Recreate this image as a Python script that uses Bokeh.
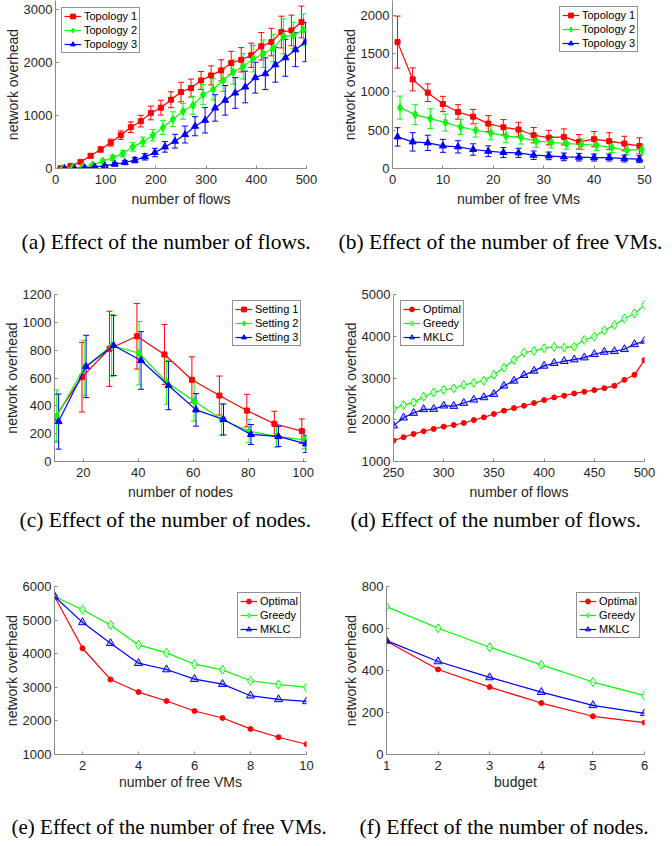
from bokeh.plotting import figure
from bokeh.models import ColumnDataSource, Whisker, TeeHead, Title, Range1d
from bokeh.layouts import column, row
from bokeh.embed import file_html
from bokeh.resources import INLINE

RED = "#ff0000"
GREEN = "#00ff00"
BLUE = "#0000ff"
SANS = "Liberation Sans"
SERIF = "Liberation Serif"
AXC = "#262626"
LINEC = "#8a8a8a"

# ---------------- (a) effect of number of flows (with error bars)
a_x1 = [10, 30, 50, 70, 90, 110, 130, 150, 170, 190, 210, 230, 250, 270, 290, 310, 330, 350, 370, 390, 410, 430, 450, 470, 490]
a_x2 = [14, 34, 54, 74, 94, 114, 134, 154, 174, 194, 214, 234, 254, 274, 294, 314, 334, 354, 374, 394, 414, 434, 454, 474, 494]
a_x3 = [18, 38, 58, 78, 98, 118, 138, 158, 178, 198, 218, 238, 258, 278, 298, 318, 338, 358, 378, 398, 418, 438, 458, 478, 498]
a_t1 = [5, 50, 125, 240, 360, 490, 630, 780, 895, 1050, 1150, 1300, 1445, 1520, 1665, 1760, 1855, 1995, 2055, 2140, 2310, 2390, 2580, 2610, 2770]
a_t1_err = [10, 15, 20, 35, 50, 65, 80, 100, 110, 130, 140, 150, 185, 170, 170, 180, 200, 220, 230, 230, 260, 260, 300, 290, 300]
a_t2 = [0, 13, 31, 69, 138, 201, 283, 409, 503, 629, 774, 931, 1082, 1195, 1396, 1497, 1667, 1824, 1931, 2075, 2170, 2277, 2497, 2516, 2623]
a_t2_err = [5, 10, 15, 25, 35, 50, 60, 80, 90, 110, 130, 140, 150, 170, 190, 200, 210, 230, 240, 250, 260, 260, 330, 250, 300]
a_t3 = [0, 0, 13, 31, 50, 82, 113, 157, 220, 302, 409, 516, 642, 799, 912, 1145, 1289, 1428, 1541, 1717, 1792, 1962, 2094, 2245, 2390]
a_t3_err = [5, 5, 10, 15, 20, 30, 40, 50, 60, 80, 100, 130, 160, 180, 240, 250, 280, 290, 300, 290, 300, 330, 350, 320, 370]

# ---------------- (b) effect of number of free VMs (with error bars)
b_x1 = [1, 4, 7, 10, 13, 16, 19, 22, 25, 28, 31, 34, 37, 40, 43, 46, 49]
b_x2 = [1.5, 4.5, 7.5, 10.5, 13.5, 16.5, 19.5, 22.5, 25.5, 28.5, 31.5, 34.5, 37.5, 40.5, 43.5, 46.5, 49.5]
b_x3 = [1, 4, 7, 10, 13, 16, 19, 22, 25, 28, 31, 34, 37, 40, 43, 46, 49]
b_t1 = [1652, 1165, 991, 843, 739, 678, 587, 539, 509, 435, 404, 413, 348, 383, 357, 326, 296]
b_t1_err = [340, 150, 115, 100, 95, 95, 105, 100, 95, 100, 95, 105, 95, 100, 110, 95, 105]
b_t2 = [796, 704, 652, 600, 543, 500, 465, 426, 404, 357, 343, 326, 317, 304, 274, 239, 248]
b_t2_err = [150, 130, 130, 110, 100, 90, 90, 90, 85, 80, 75, 75, 70, 70, 65, 60, 60]
b_t3 = [413, 348, 335, 296, 283, 248, 226, 209, 204, 174, 165, 152, 148, 143, 143, 130, 122]
b_t3_err = [120, 120, 100, 85, 80, 75, 70, 65, 60, 55, 50, 50, 50, 45, 45, 45, 45]

# ---------------- (c) effect of number of nodes (with error bars)
c_x1 = [9.5, 19.5, 29.5, 39.5, 49.5, 59.5, 69.5, 79.5, 89.5, 99.5]
c_x2 = [10.3, 20.3, 30.3, 40.3, 50.3, 60.3, 70.3, 80.3, 90.3, 100.3]
c_x3 = [11, 21, 31, 41, 51, 61, 71, 81, 91, 101]
c_s1 = [314, 606, 810, 900, 769, 587, 474, 366, 271, 218]
c_s1_err = [168, 250, 270, 236, 215, 165, 140, 117, 90, 88]
c_s2 = [326, 673, 834, 778, 570, 434, 302, 218, 180, 156]
c_s2_err = [187, 198, 222, 228, 158, 144, 114, 84, 78, 66]
c_s3 = [287, 683, 834, 726, 546, 371, 302, 194, 180, 127]
c_s3_err = [198, 224, 216, 207, 174, 117, 111, 72, 72, 62]

# ---------------- (d) effect of number of flows
d_x = [250, 260, 270, 280, 290, 300, 310, 320, 330, 340, 350, 360, 370, 380, 390, 400, 410, 420, 430, 440, 450, 460, 470, 480, 490, 500]
d_opt = [1501, 1581, 1660, 1724, 1780, 1835, 1875, 1922, 1994, 2058, 2137, 2217, 2280, 2336, 2400, 2471, 2535, 2575, 2630, 2670, 2710, 2757, 2813, 2956, 3076, 3430]
d_greedy = [2256, 2352, 2416, 2551, 2654, 2718, 2750, 2837, 2885, 2934, 3076, 3250, 3433, 3608, 3648, 3712, 3744, 3728, 3752, 3911, 3990, 4141, 4268, 4419, 4547, 4746]
d_mklc = [1859, 2050, 2161, 2249, 2256, 2336, 2328, 2400, 2479, 2535, 2614, 2813, 2932, 3068, 3171, 3290, 3354, 3402, 3441, 3489, 3569, 3624, 3640, 3688, 3807, 3887]

# ---------------- (e) effect of number of free VMs
e_x = [1, 2, 3, 4, 5, 6, 7, 8, 9, 10]
e_opt = [5704, 4162, 3233, 2858, 2591, 2294, 2087, 1761, 1514, 1306]
e_greedy = [5704, 5308, 4854, 4261, 4024, 3688, 3520, 3194, 3085, 2996]
e_mklc = [5704, 4933, 4310, 3717, 3530, 3243, 3095, 2749, 2640, 2581]

# ---------------- (f) effect of number of nodes (budget)
f_x = [1, 2, 3, 4, 5, 6]
f_opt = [539, 405, 321, 245, 182, 152]
f_greedy = [704, 601, 511, 427, 345, 280]
f_mklc = [542, 443, 367, 297, 234, 196]

captions = [
    "(a) Effect of the number of flows.",
    "(b) Effect of the number of free VMs.",
    "(c) Effect of the number of nodes.",
    "(d) Effect of the number of flows.",
    "(e) Effect of the number of free VMs.",
    "(f) Effect of the number of nodes.",
]


def make_fig(width, height, mbl, mbr, mbt, mbb, xr, yr, xticks, yticks, xlabel, xlab_standoff):
    p = figure(width=width, height=height, output_backend="svg", toolbar_location=None,
               x_range=Range1d(*xr), y_range=Range1d(*yr),
               min_border_left=mbl, min_border_right=mbr,
               min_border_top=mbt, min_border_bottom=mbb)
    p.grid.visible = False
    p.outline_line_color = None
    p.background_fill_color = "white"
    p.border_fill_color = "white"
    p.xaxis.ticker = xticks
    p.yaxis.ticker = yticks
    for ax in (p.xaxis[0], p.yaxis[0]):
        ax.axis_line_color = LINEC
        ax.axis_line_width = 1
        ax.major_tick_line_color = LINEC
        ax.major_tick_in = 3
        ax.major_tick_out = 0
        ax.minor_tick_line_color = None
        ax.major_label_text_font = SANS
        ax.major_label_text_font_size = "13px"
        ax.major_label_text_color = AXC
        ax.axis_label_text_font = SANS
        ax.axis_label_text_font_size = "14px"
        ax.axis_label_text_font_style = "normal"
        ax.axis_label_text_color = AXC
    p.xaxis.axis_label = xlabel
    p.yaxis.axis_label = "network overhead"
    p.xaxis.major_label_standoff = 6
    p.xaxis.axis_label_standoff = xlab_standoff
    p.yaxis.major_label_standoff = 3
    p.yaxis.axis_label_standoff = 0
    return p


def err_series(p, x, y, e, color, marker, size, label):
    src = ColumnDataSource(dict(x=x, y=y,
                                lo=[v - d for v, d in zip(y, e)],
                                hi=[v + d for v, d in zip(y, e)]))
    p.add_layout(Whisker(source=src, base="x", lower="lo", upper="hi",
                         line_color=color, line_width=1,
                         upper_head=TeeHead(size=6, line_color=color, line_width=1),
                         lower_head=TeeHead(size=6, line_color=color, line_width=1)))
    p.line("x", "y", source=src, line_color=color, line_width=1.2, legend_label=label)
    p.scatter("x", "y", source=src, marker=marker, size=size, line_color=color,
              fill_color=color, legend_label=label)


def plain_series(p, x, y, color, marker, size, fill, fill_alpha, label):
    src = ColumnDataSource(dict(x=x, y=y))
    p.line("x", "y", source=src, line_color=color, line_width=1.2, legend_label=label)
    p.scatter("x", "y", source=src, marker=marker, size=size, line_color=color,
              fill_color=fill, fill_alpha=fill_alpha, legend_label=label)


def style_legend(p, loc):
    lg = p.legend[0]
    lg.location = loc
    lg.label_text_font = SANS
    lg.label_text_font_size = "11px"
    lg.label_text_color = "black"
    lg.border_line_color = AXC
    lg.border_line_width = 1
    lg.background_fill_color = "white"
    lg.background_fill_alpha = 1
    lg.glyph_width = 17
    lg.glyph_height = 12
    lg.label_height = 12
    lg.label_standoff = 3
    lg.spacing = 2
    lg.padding = 2
    lg.margin = 0


def add_caption(p, text, offset, gap, size="21.5px"):
    p.add_layout(Title(text=" ", text_font_size="1px", standoff=gap), "below")
    p.add_layout(Title(text=text, align="left", offset=offset, text_font=SERIF,
                       text_font_size=size, text_font_style="normal",
                       text_color="black", standoff=0, vertical_align="top"), "below")


# ---- row 1 (page y 0..280)
pa = make_fig(336, 280, 55, 30, 0, 112, (0, 500), (0, 3176),
              [0, 100, 200, 300, 400, 500], [0, 1000, 2000, 3000], "number of flows", 4)
err_series(pa, a_x1, a_t1, a_t1_err, RED, "square", 5, "Topology 1")
err_series(pa, a_x2, a_t2, a_t2_err, GREEN, "diamond", 8, "Topology 2")
err_series(pa, a_x3, a_t3, a_t3_err, BLUE, "triangle", 7, "Topology 3")
style_legend(pa, (6, 115))
add_caption(pa, captions[0], -34, 17)

pb = make_fig(336, 280, 56, 28, 0, 112, (0, 50), (0, 2196),
              [0, 10, 20, 30, 40, 50], [0, 500, 1000, 1500, 2000], "number of free VMs", 4)
err_series(pb, b_x1, b_t1, b_t1_err, RED, "square", 5, "Topology 1")
err_series(pb, b_x2, b_t2, b_t2_err, GREEN, "diamond", 8, "Topology 2")
err_series(pb, b_x3, b_t3, b_t3_err, BLUE, "triangle", 7, "Topology 3")
style_legend(pb, (167, 116))
add_caption(pb, captions[1], -54, 17)

# ---- row 2 (page y 280..555)
pc = make_fig(336, 275, 54, 30, 14, 94, (9.5, 101.2), (0, 1200),
              [20, 40, 60, 80, 100], [0, 200, 400, 600, 800, 1000, 1200], "number of nodes", 4)
err_series(pc, c_x1, c_s1, c_s1_err, RED, "square", 5, "Setting 1")
err_series(pc, c_x2, c_s2, c_s2_err, GREEN, "diamond", 8, "Setting 2")
err_series(pc, c_x3, c_s3, c_s3_err, BLUE, "triangle", 7, "Setting 3")
style_legend(pc, (178, 115))
add_caption(pc, captions[2], -35, 2)

pd_ = make_fig(336, 275, 57, 28, 14, 94, (250, 500), (1000, 5000),
               [250, 300, 350, 400, 450, 500], [1000, 2000, 3000, 4000, 5000], "number of flows", 4)
plain_series(pd_, d_x, d_opt, RED, "circle", 5, RED, 1, "Optimal")
plain_series(pd_, d_x, d_greedy, GREEN, "diamond", 9, "white", 0.6, "Greedy")
plain_series(pd_, d_x, d_mklc, BLUE, "triangle", 8, BLUE, 0.25, "MKLC")
style_legend(pd_, (7, 115))
add_caption(pd_, captions[3], -43, 2)

# ---- row 3 (page y 555..846)
pe = make_fig(336, 291, 54, 30, 31, 92, (1, 10), (1000, 6000),
              [2, 4, 6, 8, 10], [1000, 2000, 3000, 4000, 5000, 6000], "number of free VMs", 1)
plain_series(pe, e_x, e_opt, RED, "circle", 5, RED, 1, "Optimal")
plain_series(pe, e_x, e_greedy, GREEN, "diamond", 9, "white", 0.6, "Greedy")
plain_series(pe, e_x, e_mklc, BLUE, "triangle", 8, BLUE, 0.25, "MKLC")
style_legend(pe, (183, 116))
add_caption(pe, captions[4], -43, 19, size="21px")

pf = make_fig(336, 291, 50, 28, 31, 92, (1, 6), (0, 800),
              [1, 2, 3, 4, 5, 6], [0, 200, 400, 600, 800], "budget", 1)
plain_series(pf, f_x, f_opt, RED, "circle", 5, RED, 1, "Optimal")
plain_series(pf, f_x, f_greedy, GREEN, "diamond", 9, "white", 0.6, "Greedy")
plain_series(pf, f_x, f_mklc, BLUE, "triangle", 8, BLUE, 0.25, "MKLC")
style_legend(pf, (190, 116))
add_caption(pf, captions[5], -27, 19)

layout = column(row(pa, pb), row(pc, pd_), row(pe, pf))

open("out.html", "w").write(file_html(layout, INLINE))
